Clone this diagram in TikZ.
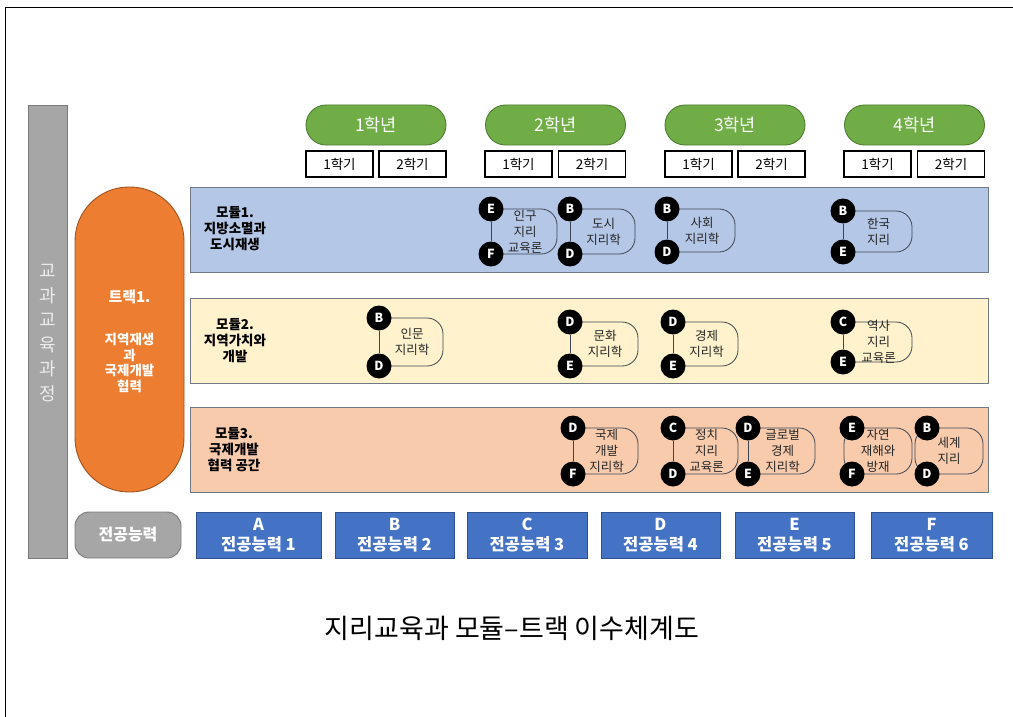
\documentclass[tikz,border=0pt]{standalone}
\usepackage{fontspec}
\setmainfont{Noto Sans CJK KR}
\definecolor{mone}{HTML}{B4C7E7}
\definecolor{mtwo}{HTML}{FFF2CC}
\definecolor{mthree}{HTML}{F8CBAD}
\definecolor{mborder}{HTML}{6F7884}
\definecolor{orfill}{HTML}{ED7D31}
\definecolor{orline}{HTML}{A0521D}
\definecolor{grfill}{HTML}{70AD47}
\definecolor{grline}{HTML}{4E7D31}
\definecolor{blfill}{HTML}{4472C4}
\definecolor{blline}{HTML}{2F528F}
\definecolor{gyfill}{HTML}{A6A6A6}
\definecolor{gyline}{HTML}{7A7A7A}
\definecolor{crsline}{HTML}{3E4654}
\definecolor{crstxt}{HTML}{262626}
\tikzset{
  module/.style={draw=mborder, line width=1pt, minimum width=798, minimum height=85, inner sep=0},
  modlabel/.style={font=\bfseries\fontsize{13.5}{16}\selectfont, align=center, text=black},
  yearpill/.style={draw=grline, fill=grfill, line width=0.9pt, rounded corners=20, minimum width=140, minimum height=40, text=white, font=\fontsize{17.5}{19}\selectfont},
  sembox/.style={draw=black, fill=white, line width=1.3pt, minimum width=67, minimum height=26, inner sep=0, font=\fontsize{13.5}{14}\selectfont},
  compbox/.style={draw=blline, fill=blfill, line width=0.9pt, minimum height=46, inner sep=0, text=white, align=center, font=\bfseries\fontsize{16.5}{20}\selectfont},
  crsshape/.style={draw=crsline, line width=0.8pt},
  crstext/.style={align=center, text=crstxt, inner sep=0, font=\fontsize{12.5}{16}\selectfont},
  dot/.style={circle, fill=black, inner sep=0, minimum size=25, text=white, font=\bfseries\fontsize{12.5}{12}\selectfont},
}
\newcommand\coursebox[8]{%
  \draw[crsshape] (#2,#3) [rounded corners=16pt] -- (#5,#3) -- (#5,#4) -- (#2,#4);
  \node[crstext] (#1) at ({(#2+#5)/2+1},{(#3+#4)/2}) {#8};
  \node[dot] (#1t) at (#2,#3) {#6};
  \node[dot] (#1b) at (#2,#4) {#7};
  \draw[crsshape] (#1t) -- (#1b);
}
\begin{document}
\begin{tikzpicture}[x=1pt,y=-1pt]
\useasboundingbox (0,0) rectangle (1013,717);
\fill[white] (0,0) rectangle (1013,717);
\draw[line width=1pt] (5,717) -- (5,8) -- (1013,8);

% curriculum bar
\node[draw=gyline, fill=gyfill, line width=0.9pt, minimum width=39, minimum height=453, inner sep=0] (curr) at (47.5,331.5) {};
\node[align=center, text=white!85!gray, font=\fontsize{18}{24.5}\selectfont] (currtxt) at (47.5,333) {교\\과\\교\\육\\과\\정};

% track
\node[draw=orline, fill=orfill, line width=0.9pt, rounded corners=54pt, minimum width=109, minimum height=305, inner sep=0] (track) at (129.5,339.5) {};
\node[text=white, font=\bfseries\fontsize{15}{17}\selectfont] (tracktitle) at (129.5,297) {트랙1.};
\node[text=white, align=center, font=\bfseries\fontsize{13.5}{15.8}\selectfont] (tracktxt) at (129.5,363) {지역재생\\과\\국제개발\\협력};

% modules
\node[module, fill=mone] (mod1) at (589,230) {};
\node[module, fill=mtwo] (mod2) at (589,340.5) {};
\node[module, fill=mthree] (mod3) at (589,449.5) {};
\node[modlabel] (mod1l) at (235,229) {모듈1.\\지방소멸과\\도시재생};
\node[modlabel] (mod2l) at (235,341) {모듈2.\\지역가치와\\개발};
\node[modlabel] (mod3l) at (234,450) {모듈3.\\국제개발\\협력 공간};

% years
\node[yearpill] (y1) at (376,125) {1학년};
\node[yearpill] (y2) at (555.5,125) {2학년};
\node[yearpill] (y3) at (735,125) {3학년};
\node[yearpill] (y4) at (914.5,125) {4학년};
\node[sembox] (s11) at (339.5,164) {1학기};
\node[sembox] (s12) at (412.5,164) {2학기};
\node[sembox] (s21) at (518.5,164) {1학기};
\node[sembox] (s22) at (592,164) {2학기};
\node[sembox] (s31) at (698.5,164) {1학기};
\node[sembox] (s32) at (771.5,164) {2학기};
\node[sembox] (s41) at (877.5,164) {1학기};
\node[sembox] (s42) at (951,164) {2학기};

% module 1 courses
\coursebox{pop}{491}{209}{254}{557}{E}{F}{인구\\지리\\교육론}
\coursebox{urban}{570}{209}{254}{635}{B}{D}{도시\\지리학}
\coursebox{social}{667}{209}{252}{735}{B}{D}{사회\\지리학}
\coursebox{korea}{843}{211}{252}{912}{B}{E}{한국\\지리}
% module 2 courses
\coursebox{human}{379}{318}{366}{443}{B}{D}{인문\\지리학}
\coursebox{culture}{570}{322}{366}{638}{D}{E}{문화\\지리학}
\coursebox{econ}{673}{322}{366}{738}{D}{E}{경제\\지리학}
\coursebox{hist}{843}{322}{362}{912}{C}{E}{역사\\지리\\교육론}
% module 3 courses
\coursebox{intl}{573}{428}{474}{638}{D}{F}{국제\\개발\\지리학}
\coursebox{polit}{673}{428}{474}{738}{C}{D}{정치\\지리\\교육론}
\coursebox{global}{748}{428}{474}{815}{D}{E}{글로벌\\경제\\지리학}
\node[crsshape, crstext, rounded corners=16pt, minimum width=68, minimum height=46] (natural) at (878,451) {자연\\재해와\\방재};
\node[dot] (naturalt) at (852,428) {E};
\node[dot] (naturalb) at (852,474) {F};
\node[crsshape, crstext, rounded corners=16pt, minimum width=68, minimum height=46] (world) at (949,451) {세계\\지리};
\node[dot] (worldt) at (927,428) {B};
\node[dot] (worldb) at (927,474) {D};

% competencies
\node[draw=gyline, fill=gyfill, line width=0.9pt, rounded corners=14pt, minimum width=106, minimum height=46, text=white, font=\bfseries\fontsize{16}{17}\selectfont] (comp) at (128,535) {전공능력};
\node[compbox, minimum width=125] (cA) at (258.5,535) {A\\전공능력 1};
\node[compbox, minimum width=119] (cB) at (394.5,535) {B\\전공능력 2};
\node[compbox, minimum width=120] (cC) at (527,535) {C\\전공능력 3};
\node[compbox, minimum width=119] (cD) at (660.5,535) {D\\전공능력 4};
\node[compbox, minimum width=119] (cE) at (794.5,535) {E\\전공능력 5};
\node[compbox, minimum width=121] (cF) at (931.5,535) {F\\전공능력 6};

% title
\node[font=\fontsize{27}{30}\selectfont] (title) at (512,628) {지리교육과 모듈–트랙 이수체계도};
\end{tikzpicture}
\end{document}
